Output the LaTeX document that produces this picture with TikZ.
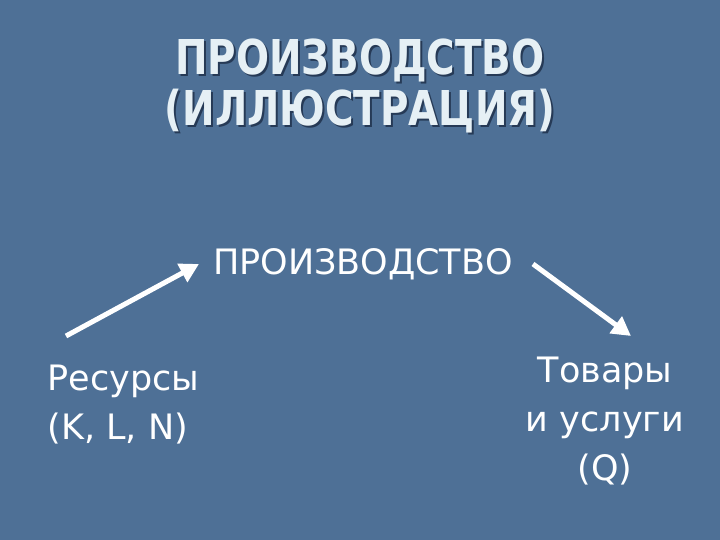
\documentclass[tikz,border=0pt]{standalone}
\usepackage{fontspec}
\setmainfont{DejaVu Sans}
\usetikzlibrary{arrows.meta}
\definecolor{slidebg}{RGB}{78,112,150}
\definecolor{titlefg}{RGB}{230,240,245}
\definecolor{titleshade}{RGB}{38,58,86}
\newcommand{\slidetitle}{\scalebox{0.81}[1]{\begin{tabular}{@{}c@{}}ПРОИЗВОДСТВО\\[-3pt](ИЛЛЮСТРАЦИЯ)\end{tabular}}}
\tikzset{
  title/.style={font=\fontsize{48}{54}\selectfont\bfseries, inner sep=0pt, text=titlefg},
  shade/.style={font=\fontsize{48}{54}\selectfont\bfseries, inner sep=0pt, text=titleshade},
  body/.style={font=\fontsize{35}{49}\selectfont, text=white},
  arr/.style={line width=5pt, white, -{Triangle[length=19pt,width=20pt]}}
}
\begin{document}
\begin{tikzpicture}[x=1pt,y=-1pt]
  \fill[slidebg] (0,0) rectangle (720,540);
  \useasboundingbox (0,0) rectangle (720,540);
  % title
  \node[shade] at (362,91) {\slidetitle};
  \node[title] (head) at (360,89) {\slidetitle};
  % scheme
  \node[body] (prod) at (363,264) {ПРОИЗВОДСТВО};
  \node[body, align=left, anchor=west] (res) at (44,405) {Ресурсы\\(K, L, N)};
  \node[body, align=center] (goods) at (605,421) {Товары\\и услуги\\(Q)};
  \coordinate (a1) at (66,336);
  \coordinate (a2) at (199,264);
  \coordinate (b1) at (533,264);
  \coordinate (b2) at (631,336);
  \draw[arr] (a1) -- (a2);
  \draw[arr] (b1) -- (b2);
\end{tikzpicture}
\end{document}
